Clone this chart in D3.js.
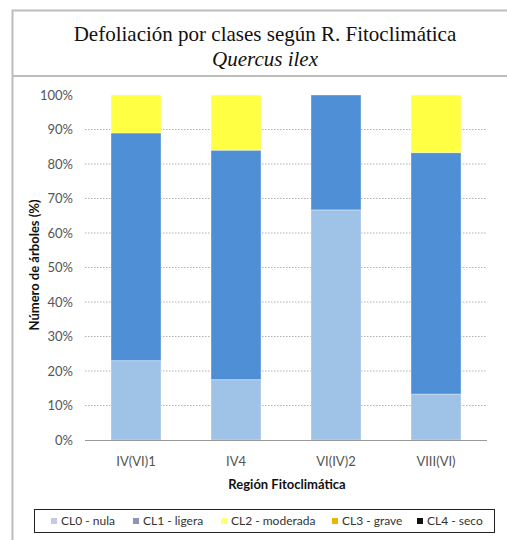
<!DOCTYPE html>
<html>
<head>
<meta charset="utf-8">
<script src="https://cdn.jsdelivr.net/npm/d3@7"></script>
<style>
  body { margin: 0; background: #fff; }
  svg { display: block; }
</style>
</head>
<body>
<svg id="chart" width="507" height="540"></svg>
<script>
// regiones fitoclimaticas
const regiones = ["IV(VI)1", "IV4", "VI(IV)2", "VIII(VI)"];
const clases = ["CL0 - nula", "CL1 - ligera", "CL2 - moderada", "CL3 - grave", "CL4 - seco"];
// % de arboles por clase
const cl0 = [23, 17.5, 66.7, 13.3];
const cl1 = [66, 66.5, 33.3, 70];
const cl2 = [11, 16, 0, 16.7];
const cl3 = [0, 0, 0, 0];
const cl4 = [0, 0, 0, 0];
const yTicks = [0, 10, 20, 30, 40, 50, 60, 70, 80, 90, 100];

const barColors = ["#9fc2e7", "#4f8fd5", "#ffff44", "#ffc000", "#000000"];
const legendColors = ["#c6c9e0", "#8a96b8", "#ffff7a", "#e8b800", "#111111"];

const svg = d3.select("#chart");
const font = "Lato, 'Open Sans', sans-serif";

// marcos
svg.append("rect").attr("x", 12.5).attr("y", 10.5).attr("width", 510).attr("height", 540)
    .attr("fill", "none").attr("stroke", "#bdbdbd").attr("stroke-width", 2);
svg.append("line").attr("x1", 12).attr("x2", 507).attr("y1", 76).attr("y2", 76)
    .attr("stroke", "#bdbdbd").attr("stroke-width", 2);

svg.append("text").attr("x", 265).attr("y", 41).attr("text-anchor", "middle")
    .attr("font-family", "'Liberation Serif', serif").attr("font-size", 21).attr("fill", "#111")
    .text("Defoliación por clases según R. Fitoclimática");
svg.append("text").attr("x", 265).attr("y", 66).attr("text-anchor", "middle")
    .attr("font-family", "'Liberation Serif', serif").attr("font-size", 21).attr("font-style", "italic")
    .attr("fill", "#111").text("Quercus ilex");

const x = d3.scaleBand().domain(regiones).range([86, 486]).paddingInner(0.5).paddingOuter(0.25);
const y = d3.scaleLinear().domain([0, 100]).range([440, 95]);

// rejilla
svg.append("g").selectAll("line").data(yTicks.filter(d => d > 0 && d < 100)).enter()
    .append("line")
    .attr("x1", 85).attr("x2", 487)
    .attr("y1", d => y(d)).attr("y2", d => y(d))
    .attr("stroke", "#b0b0b0").attr("stroke-dasharray", "1.5,1.5");

const table = regiones.map((r, i) => ({
    region: r, c0: cl0[i], c1: cl1[i], c2: cl2[i], c3: cl3[i], c4: cl4[i]
}));
const stack = d3.stack().keys(["c0", "c1", "c2", "c3", "c4"])(table);

svg.append("g").selectAll("g").data(stack).enter()
    .append("g").attr("fill", (d, i) => barColors[i])
    .selectAll("rect").data(d => d).enter()
    .append("rect")
    .attr("x", d => x(d.data.region))
    .attr("width", x.bandwidth())
    .attr("y", d => y(d[1]))
    .attr("height", d => y(d[0]) - y(d[1]))
    .attr("stroke", d => (d[1] - d[0]) > 0 ? "#ffffff" : "none")
    .attr("stroke-opacity", 0.35)
    .attr("stroke-width", 1);

// ejes
const yAxis = svg.append("g").attr("transform", "translate(85,0)")
    .call(d3.axisLeft(y).tickValues(yTicks).tickFormat(d => d + "%").tickSize(0).tickPadding(12));
yAxis.select(".domain").remove();
yAxis.selectAll("text").attr("font-family", font).attr("font-size", 13).attr("fill", "#555");

const xAxis = svg.append("g").attr("transform", "translate(0,440)")
    .call(d3.axisBottom(x).tickSize(0).tickPadding(17));
xAxis.select(".domain").attr("stroke", "#9a9a9a").attr("d", "M85,0.5H487");
xAxis.selectAll("text").attr("font-family", font).attr("font-size", 13).attr("fill", "#555");

svg.append("text").attr("transform", "translate(39,265) rotate(-90)").attr("text-anchor", "middle")
    .attr("font-family", font).attr("font-size", 13).attr("font-weight", "bold").attr("fill", "#111")
    .text("Número de árboles (%)");
svg.append("text").attr("x", 287).attr("y", 489).attr("text-anchor", "middle")
    .attr("font-family", font).attr("font-size", 13).attr("font-weight", "bold").attr("fill", "#111")
    .text("Región Fitoclimática");

// leyenda
svg.append("rect").attr("x", 34.5).attr("y", 509.5).attr("width", 460).attr("height", 23)
    .attr("fill", "#fff").attr("stroke", "#222");
const legX = [51, 133, 221, 332, 417];
const leg = svg.append("g").selectAll("g").data(clases).enter()
    .append("g").attr("transform", (d, i) => `translate(${legX[i]},521)`);
leg.append("rect").attr("x", 0).attr("y", -3).attr("width", 6).attr("height", 6)
    .attr("fill", (d, i) => legendColors[i]);
leg.append("text").attr("x", 10).attr("y", 4)
    .attr("font-family", font).attr("font-size", 12).attr("fill", "#333")
    .text(d => d);
</script>
</body>
</html>
